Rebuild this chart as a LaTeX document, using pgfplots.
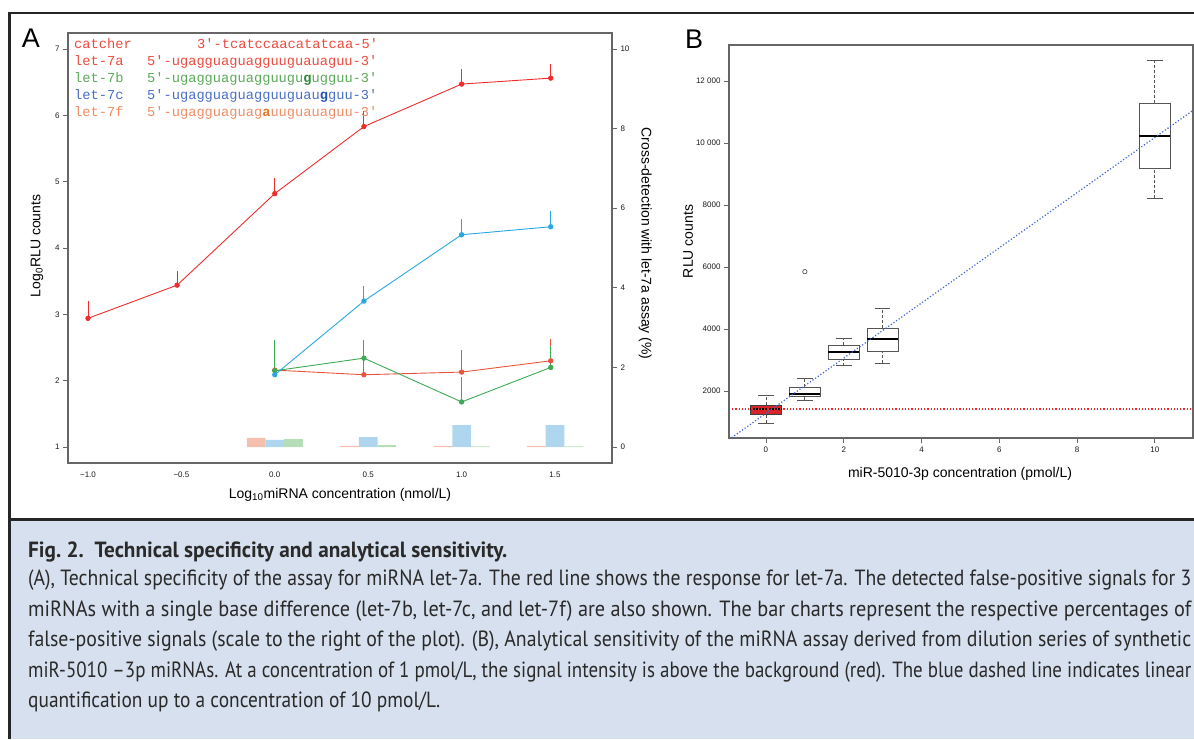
\documentclass[border=0pt]{standalone}
\usepackage{fontspec}
\setmainfont{Liberation Sans}
\setmonofont{Liberation Mono}
\newfontfamily\capfont{PT Sans}
\usepackage{graphicx}
\usepackage{pgfplots}
\pgfplotsset{compat=1.18}

\definecolor{sevena}{HTML}{EE2C2C}
\definecolor{sevenb}{HTML}{3DAA55}
\definecolor{sevenc}{HTML}{27A8E0}
\definecolor{sevenf}{HTML}{E8553F}
\definecolor{txta}{HTML}{EC4A3E}
\definecolor{txtb}{HTML}{5BAA5A}
\definecolor{txtbb}{HTML}{2E8B3A}
\definecolor{txtc}{HTML}{4A6FC8}
\definecolor{txtcb}{HTML}{2452B5}
\definecolor{txtf}{HTML}{F08C64}
\definecolor{txtfb}{HTML}{E8782F}
\definecolor{barf}{HTML}{F5BFAE}
\definecolor{barc}{HTML}{AED6EE}
\definecolor{barb}{HTML}{B5DDB8}
\definecolor{axgray}{HTML}{666666}
\definecolor{boxgray}{HTML}{555555}
\definecolor{ticktxt}{HTML}{1A1A1A}
\definecolor{capbg}{HTML}{D6E0EE}
\definecolor{frameclr}{HTML}{262626}
\definecolor{captxt}{HTML}{2A2A2A}
\definecolor{boxred}{HTML}{D9232A}
\definecolor{fitblue}{HTML}{3F66D6}

\pgfplotsset{
  rstyle/.style={
    scale only axis,
    axis line style={axgray, line width=1.3pt},
    tick style={axgray, line width=0.8pt},
    major tick length=5pt,
    tick align=outside,
    tick label style={font=\fontsize{8}{9}\selectfont, text=ticktxt},
    label style={font=\fontsize{14}{16}\selectfont, text=black},
    /pgf/number format/assume math mode=true,
  },
  errs/.style={error bars/.cd, y dir=plus, y explicit, error mark=none,
    error bar style={line width=0.9pt}},
}

\newcommand\capline[2]{\resizebox{#1}{\height}{\capfont\fontsize{22}{26}\selectfont #2}}

\begin{document}
\begin{tikzpicture}
\useasboundingbox (0,0) rectangle (1194pt,739pt);

% caption background and frame
\fill[capbg] (10pt,0) rectangle (1194pt,218pt);
\draw[line width=2.5pt, frameclr] (1194pt,726pt) -- (9.5pt,726pt) -- (9.5pt,0);
\draw[line width=3pt, frameclr] (9.5pt,219pt) -- (1194pt,219pt);

% ---------- panel A: bars on the right-hand scale ----------
\begin{axis}[rstyle,
  at={(68pt,276pt)}, anchor=south west, width=544pt, height=430pt,
  xmin=-1.107, xmax=1.805, ymin=-0.4, ymax=10.4,
  axis x line=none, axis y line*=right,
  ytick={0,2,4,6,8,10},
  ylabel={Cross-detection with let-7a assay (\%)},
  ylabel style={at={(axis description cs:1.061,0.51)}, anchor=center, rotate=180},
]
\addplot[ybar, bar width=0.1, bar shift=-0.1, fill=barf, draw=none]
  coordinates {(0,0.23) (0.5,0.03) (1,0.03) (1.5,0.03)};
\addplot[ybar, bar width=0.1, bar shift=0, fill=barc, draw=none]
  coordinates {(0,0.18) (0.5,0.25) (1,0.55) (1.5,0.55)};
\addplot[ybar, bar width=0.1, bar shift=0.1, fill=barb, draw=none]
  coordinates {(0,0.20) (0.5,0.05) (1,0.02) (1.5,0.02)};
\end{axis}

% ---------- panel A: log RLU lines ----------
\begin{axis}[rstyle,
  at={(68pt,276pt)}, anchor=south west, width=544pt, height=430pt,
  xmin=-1.107, xmax=1.805, ymin=0.76, ymax=7.24,
  tick pos=left,
  xtick={-1,-0.5,0,0.5,1,1.5},
  xticklabels={−1.0,−0.5,0.0,0.5,1.0,1.5},
  xtick style={draw=none},
  ytick={1,2,...,7},
  xlabel={Log\textsubscript{10}miRNA concentration (nmol/L)},
  xlabel style={at={(axis description cs:0.5,-0.074)}, anchor=center},
  ylabel={Log\textsubscript{0}RLU counts},
  ylabel style={at={(axis description cs:-0.057,0.505)}, anchor=center},
  every axis plot/.append style={line width=0.9pt, mark=*, mark size=2.2pt},
]
% let-7a
\addplot[sevena, errs] coordinates {
  (-1,2.94) +- (0,0.26) (-0.523,3.44) +- (0,0.22) (0,4.82) +- (0,0.23)
  (0.477,5.83) +- (0,0.23) (1,6.47) +- (0,0.22) (1.477,6.56) +- (0,0.22)};
% let-7f
\addplot[sevenf, errs] coordinates {
  (0,2.16) +- (0,0.0) (0.477,2.09) +- (0,0.24) (1,2.13) +- (0,0.33) (1.477,2.30) +- (0,0.33)};
% let-7b
\addplot[sevenb, errs] coordinates {
  (0,2.15) +- (0,0.46) (0.477,2.34) +- (0,0.27) (1,1.68) +- (0,0.38) (1.477,2.20) +- (0,0.33)};
% let-7c
\addplot[sevenc, errs] coordinates {
  (0,2.09) +- (0,0.0) (0.477,3.20) +- (0,0.22) (1,4.20) +- (0,0.24) (1.477,4.32) +- (0,0.24)};
\end{axis}

% sequences
\begin{scope}[every node/.style={anchor=base west, inner sep=0pt,
    font=\ttfamily\fontsize{13.7}{16}\selectfont}]
\node[text=txta] at (74pt,690pt) {catcher};
\node[text=txta] at (197pt,690pt) {3′-tcatccaacatatcaa-5′};
\node[text=txta] at (74pt,673pt) {let-7a};
\node[text=txta] at (147pt,673pt) {5′-ugagguaguagguuguauaguu-3′};
\node[text=txtb] at (74pt,656pt) {let-7b};
\node[text=txtb] at (147pt,656pt) {5′-ugagguaguagguugu\textcolor{txtbb}{\bfseries g}ugguu-3′};
\node[text=txtc] at (74pt,639pt) {let-7c};
\node[text=txtc] at (147pt,639pt) {5′-ugagguaguagguuguau\textcolor{txtcb}{\bfseries g}guu-3′};
\node[text=txtf] at (74pt,622pt) {let-7f};
\node[text=txtf] at (147pt,622pt) {5′-ugagguaguag\textcolor{txtfb}{\bfseries a}uuguauaguu-3′};
\end{scope}

% ---------- panel B ----------
\begin{axis}[rstyle,
  at={(729pt,301pt)}, anchor=south west, width=464pt, height=393pt,
  xmin=-0.95, xmax=10.98, ymin=484, ymax=13161,
  tick pos=left,
  scaled y ticks=false,
  xtick={0,2,...,10},
  ytick={2000,4000,6000,8000,10000,12000},
  yticklabels={2000,4000,6000,8000,10\hspace{2.2pt}000,12\hspace{2.2pt}000},
  xlabel={miR-5010-3p concentration (pmol/L)},
  xlabel style={at={(axis description cs:0.498,-0.092)}, anchor=center},
  ylabel={RLU counts},
  ylabel style={at={(axis description cs:-0.088,0.5)}, anchor=center},
  unbounded coords=jump,
]
% whiskers (dashed)
\addplot[boxgray, line width=0.8pt, dash pattern=on 3pt off 2pt] coordinates {
  (0,968) (0,1258) (0,nan) (0,1548) (0,1870) (0,nan)
  (1,1710) (1,1840) (1,nan) (1,2130) (1,2390) (1,nan)
  (2,2810) (2,3030) (2,nan) (2,3480) (2,3710) (2,nan)
  (3,2900) (3,3290) (3,nan) (3,4030) (3,4650) (3,nan)
  (10,8226) (10,9194) (10,nan) (10,11290) (10,12677)};
% whisker caps
\addplot[boxgray, line width=0.9pt] coordinates {
  (-0.2,968) (0.2,968) (0,nan) (-0.2,1870) (0.2,1870) (0,nan)
  (0.8,1710) (1.2,1710) (1,nan) (0.8,2390) (1.2,2390) (1,nan)
  (1.8,2810) (2.2,2810) (2,nan) (1.8,3710) (2.2,3710) (2,nan)
  (2.8,2900) (3.2,2900) (3,nan) (2.8,4650) (3.2,4650) (3,nan)
  (9.8,8226) (10.2,8226) (10,nan) (9.8,12677) (10.2,12677)};
% boxes
\addplot[draw=black!75, fill=boxred, line width=0.9pt] coordinates {
  (-0.4,1258) (0.4,1258) (0.4,1548) (-0.4,1548) (-0.4,1258)};
\addplot[draw=boxgray, fill=white, line width=0.9pt] coordinates {
  (0.6,1840) (1.4,1840) (1.4,2130) (0.6,2130) (0.6,1840)};
\addplot[draw=boxgray, fill=white, line width=0.9pt] coordinates {
  (1.6,3030) (2.4,3030) (2.4,3480) (1.6,3480) (1.6,3030)};
\addplot[draw=boxgray, fill=white, line width=0.9pt] coordinates {
  (2.6,3290) (3.4,3290) (3.4,4030) (2.6,4030) (2.6,3290)};
\addplot[draw=boxgray, fill=white, line width=0.9pt] coordinates {
  (9.6,9194) (10.4,9194) (10.4,11290) (9.6,11290) (9.6,9194)};
% medians
\addplot[black, line width=1.8pt] coordinates {
  (-0.4,1420) (0.4,1420) (0,nan) (0.6,1900) (1.4,1900) (1,nan)
  (1.6,3260) (2.4,3260) (2,nan) (2.6,3680) (3.4,3680) (3,nan)
  (9.6,10226) (10.4,10226)};
% outlier
\addplot[only marks, mark=o, mark size=2.2pt, boxgray, line width=0.7pt] coordinates {(1,5850)};
% background level and linear fit
\addplot[sevena, dotted, line width=1.2pt] coordinates {(-0.95,1420) (10.98,1420)};
\addplot[fitblue, dotted, line width=1.2pt] coordinates {(-0.95,434) (10.98,11052)};
\end{axis}

% panel letters
\node[anchor=base, inner sep=0pt, font=\fontsize{27}{30}\selectfont] at (31pt,691pt) {A};
\node[anchor=base, inner sep=0pt, font=\fontsize{27}{30}\selectfont] at (694pt,690pt) {B};

% caption
\begin{scope}[every node/.style={anchor=base west, inner sep=0pt, text=captxt}]
\node at (28pt,181pt) {\resizebox{479pt}{\height}{\capfont\bfseries\fontsize{22}{26}\selectfont Fig.~2.\ \ Technical specificity and analytical sensitivity.}};
\node at (28pt,153pt) {\capline{1163pt}{(A), Technical specificity of the assay for miRNA let-7a. The red line shows the response for let-7a. The detected false-positive signals for 3}};
\node at (28pt,122pt) {\capline{1163pt}{miRNAs with a single base difference (let-7b, let-7c, and let-7f) are also shown. The bar charts represent the respective percentages of}};
\node at (28pt,92pt) {\capline{1163pt}{false-positive signals (scale to the right of the plot). (B), Analytical sensitivity of the miRNA assay derived from dilution series of synthetic}};
\node at (28pt,62pt) {\capline{1163pt}{miR-5010 –3p miRNAs. At a concentration of 1 pmol/L, the signal intensity is above the background (red). The blue dashed line indicates linear}};
\node at (28pt,32pt) {\capline{412pt}{quantification up to a concentration of 10 pmol/L.}};
\end{scope}
\end{tikzpicture}
\end{document}
